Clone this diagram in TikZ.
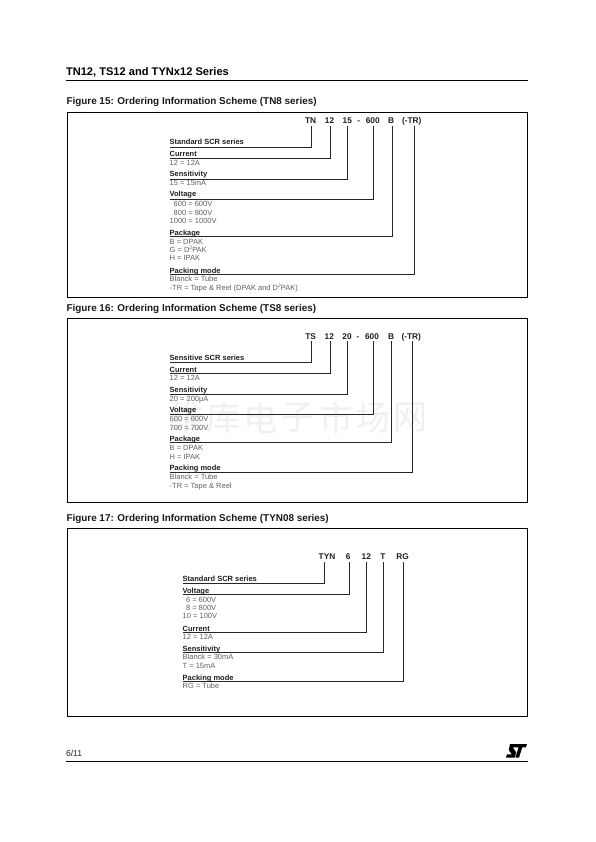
\documentclass[tikz,border=0pt]{standalone}
\usepackage{fontspec}
\setmainfont{Liberation Sans}
\newfontfamily\cjkwm{Noto Sans CJK SC}
\newcommand{\supii}{\raisebox{2.2pt}{\fontsize{5}{5}\selectfont 2}}
\newcommand{\conn}[4]{\path (#2.base) ++(0,2.2) coordinate (#2top); \draw[connline] (#1.west |- 0,#4) -- (#3,#4) -- (#3,0 |- #2top);}
\definecolor{inkbold}{gray}{0.12}
\definecolor{inksub}{gray}{0.38}
\tikzset{
  x=1pt,y=-1pt,
  every node/.style={inner sep=0pt,outer sep=0pt},
  pagetitle/.style={anchor=base west,font=\bfseries\fontsize{11.1}{12}\selectfont,text=black},
  figtitle/.style={anchor=base west,font=\bfseries\fontsize{9.9}{11}\selectfont,text=black!90},
  frameb/.style={draw=black,line width=0.8pt},
  rulel/.style={draw=black,line width=0.9pt},
  token/.style={anchor=base,font=\bfseries\fontsize{8.3}{9}\selectfont,text=inkbold},
  head/.style={anchor=base west,font=\bfseries\fontsize{7.5}{8}\selectfont,text=inkbold},
  subl/.style={anchor=base west,font=\fontsize{7.5}{8}\selectfont,text=inksub},
  connline/.style={draw=black!85,line width=0.75pt,line join=miter},
  wm/.style={anchor=center,font=\cjkwm\fontsize{34}{36}\selectfont,text=black!6},
}
\begin{document}
\begin{tikzpicture}
\useasboundingbox (0,0) rectangle (595,842);
\fill[white] (0,0) rectangle (595,842);
% watermark
\node[wm] (w1) at (186,418) {维};
\node[wm] (w2) at (223,418) {库};
\node[wm] (w3) at (260,418) {电};
\node[wm] (w4) at (297,418) {子};
\node[wm] (w5) at (336,418) {市};
\node[wm] (w6) at (373,418) {场};
\node[wm] (w7) at (410,418) {网};
% page furniture
\node[pagetitle] (ptitle) at (66,76) {TN12, TS12 and TYNx12 Series};
\draw[rulel] (66,80.5) -- (528,80.5);
\node[anchor=base west,font=\fontsize{8.6}{9}\selectfont,text=black!85] (pageno) at (66,756) {6/11};
\draw[rulel] (66,761) -- (528,761);
% ST logo
\fill[black] (510,744) -- (527,744) -- (525.8,747.4) -- (522.2,747.4) -- (519,757.6) -- (515.4,757.6) -- (518.6,747.4) -- (512.8,747.4) -- (514,749.2) -- (516.2,752.4) -- (514.6,757.6) -- (506,757.6) -- (507,754.4) -- (511.8,754.4) -- (508.8,750) -- cycle;
% Figure 15
\node[figtitle] (f15) at (66.5,105) {Figure 15: Ordering Information Scheme (TN8 series)};
\draw[frameb] (67,112.3) rectangle (527.7,297.3);
\node[token] (a1) at (310.7,124) {TN};
\node[token] (a2) at (329.5,124) {12};
\node[token] (a3) at (347.3,124) {15};
\node[token] (a4) at (358.7,124) {-};
\node[token] (a5) at (372.7,124) {600};
\node[token] (a6) at (391,124) {B};
\node[token] (a7) at (411.7,124) {(-TR)};
\node[head] (ah1) at (169.7,145) {Standard SCR series};
\node[head] (ah2) at (169.7,157) {Current};
\node[subl] (as2) at (169.7,166) {12 = 12A};
\node[head] (ah3) at (169.7,177) {Sensitivity};
\node[subl] (as3) at (169.7,186) {15 = 15mA};
\node[head] (ah4) at (169.7,197) {Voltage};
\node[subl] (as4a) at (173.7,206.5) {600 = 600V};
\node[subl] (as4b) at (173.7,215) {800 = 800V};
\node[subl] (as4c) at (169.7,223.5) {1000 = 1000V};
\node[head] (ah5) at (169.7,235) {Package};
\node[subl] (as5a) at (169.7,244) {B = DPAK};
\node[subl] (as5b) at (169.7,252) {G = D\supii PAK};
\node[subl] (as5c) at (169.7,260.5) {H = IPAK};
\node[head] (ah6) at (169.7,273) {Packing mode};
\node[subl] (as6a) at (169.7,281.5) {Blanck = Tube};
\node[subl] (as6b) at (169.7,290) {-TR = Tape \& Reel (DPAK and D\supii PAK)};
\conn{ah1}{a1}{311.7}{147.3}
\conn{ah2}{a2}{330}{158.3}
\conn{ah3}{a3}{347.7}{179.3}
\conn{ah4}{a5}{373.7}{199.3}
\conn{ah5}{a6}{392}{236.7}
\conn{ah6}{a7}{414}{274.3}
% Figure 16
\node[figtitle] (f16) at (66.5,311) {Figure 16: Ordering Information Scheme (TS8 series)};
\draw[frameb] (67,318.5) rectangle (527.7,502);
\node[token] (b1) at (310.7,339) {TS};
\node[token] (b2) at (329.3,339) {12};
\node[token] (b3) at (347,339) {20};
\node[token] (b4) at (358,339) {-};
\node[token] (b5) at (372,339) {600};
\node[token] (b6) at (391,339) {B};
\node[token] (b7) at (411.3,339) {(-TR)};
\node[head] (bh1) at (169.7,360) {Sensitive SCR series};
\node[head] (bh2) at (169.7,372) {Current};
\node[subl] (bs2) at (169.7,380) {12 = 12A};
\node[head] (bh3) at (169.7,392) {Sensitivity};
\node[subl] (bs3) at (169.7,401) {20 = 200µA};
\node[head] (bh4) at (169.7,412) {Voltage};
\node[subl] (bs4a) at (169.7,421.5) {600 = 600V};
\node[subl] (bs4b) at (169.7,430) {700 = 700V};
\node[head] (bh5) at (169.7,441) {Package};
\node[subl] (bs5a) at (169.7,450) {B = DPAK};
\node[subl] (bs5b) at (169.7,459) {H = IPAK};
\node[head] (bh6) at (169.7,470.5) {Packing mode};
\node[subl] (bs6a) at (169.7,479.5) {Blanck = Tube};
\node[subl] (bs6b) at (169.7,488) {-TR = Tape \& Reel};
\conn{bh1}{b1}{311.7}{362}
\conn{bh2}{b2}{330}{373.3}
\conn{bh3}{b3}{347.7}{394.3}
\conn{bh4}{b5}{373.7}{414.3}
\conn{bh5}{b6}{391.7}{442.7}
\conn{bh6}{b7}{412.7}{472}
% Figure 17
\node[figtitle] (f17) at (66.5,521) {Figure 17: Ordering Information Scheme (TYN08 series)};
\draw[frameb] (67,528) rectangle (527.7,716);
\node[token] (c1) at (327,559.5) {TYN};
\node[token] (c2) at (348.3,559.5) {6};
\node[token] (c3) at (366.3,559.5) {12};
\node[token] (c4) at (383,559.5) {T};
\node[token] (c5) at (402.7,559.5) {RG};
\node[head] (ch1) at (182.7,581) {Standard SCR series};
\node[head] (ch2) at (182.7,593.5) {Voltage};
\node[subl] (cs2a) at (186,602) {6 = 600V};
\node[subl] (cs2b) at (186,610) {8 = 800V};
\node[subl] (cs2c) at (182.7,618.5) {10 = 100V};
\node[head] (ch3) at (182.7,631) {Current};
\node[subl] (cs3) at (182.7,639.5) {12 = 12A};
\node[head] (ch4) at (182.7,651) {Sensitivity};
\node[subl] (cs4a) at (182.7,659.5) {Blanck = 30mA};
\node[subl] (cs4b) at (182.7,668) {T = 15mA};
\node[head] (ch5) at (182.7,680) {Packing mode};
\node[subl] (cs5) at (182.7,688.5) {RG = Tube};
\conn{ch1}{c1}{324.7}{583}
\conn{ch2}{c2}{349}{594.7}
\conn{ch3}{c3}{366.3}{632.3}
\conn{ch4}{c4}{383}{652.7}
\conn{ch5}{c5}{403}{681}
\end{tikzpicture}
\end{document}
